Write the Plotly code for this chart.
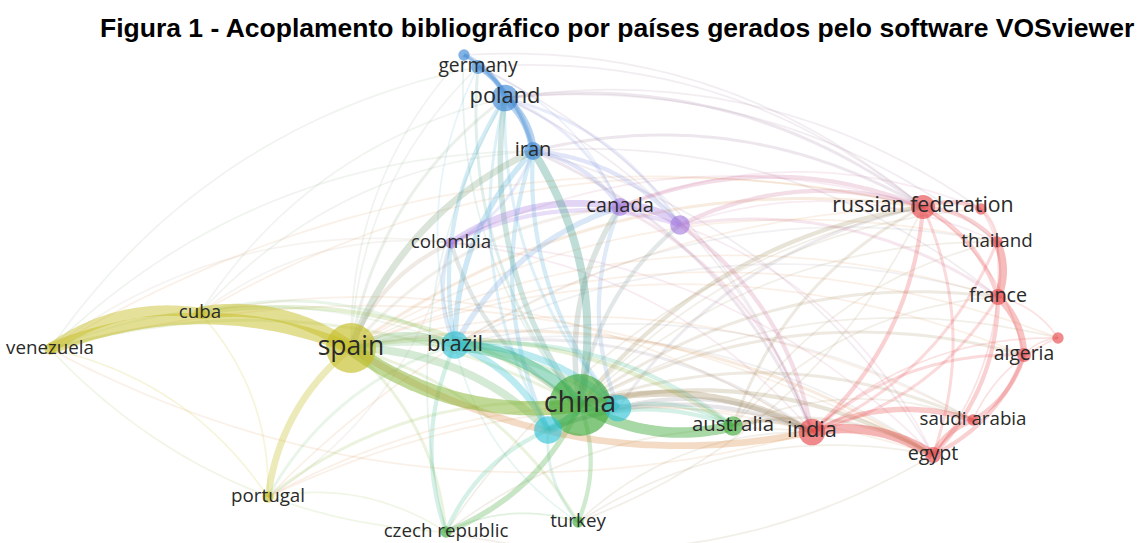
import numpy as np
import plotly.graph_objects as go

# ---- Network data: bibliographic coupling of countries (VOSviewer map) ----
node_ids = [
    "china", "spain", "brazil", "cyan-1", "cyan-2", "poland", "germany",
    "blue-2", "iran", "canada", "purple-2", "colombia", "russian federation",
    "red-2", "thailand", "france", "red-3", "algeria", "saudi arabia", "egypt",
    "india", "australia", "czech republic", "turkey", "cuba", "venezuela",
    "portugal",
]
node_labels = [
    "china", "spain", "brazil", "", "", "poland", "germany",
    "", "iran", "canada", "", "colombia", "russian federation",
    "", "thailand", "france", "", "algeria", "saudi arabia", "egypt",
    "india", "australia", "czech republic", "turkey", "cuba", "venezuela",
    "portugal",
]
# map coordinates (screen units of the map)
node_x = [580, 351, 455, 618, 548, 505, 478, 464, 533, 620, 680, 451, 923,
          981, 997, 998, 1058, 1024, 973, 933, 812, 733, 446, 578, 200, 50, 268]
node_y = [405, 348, 345, 408, 430, 98, 67, 55, 151, 207, 225, 243, 207,
          209, 242, 297, 338, 355, 420, 455, 432, 426, 532, 522, 313, 349, 497]
node_docs = [60, 39, 12, 11, 12, 11, 3, 2, 5, 5, 6, 2, 9,
             2, 2, 4, 2, 3, 2, 4, 11, 6, 2, 2, 2, 2, 2]
node_cluster = [2, 4, 6, 6, 6, 3, 3, 3, 3, 5, 5, 5, 1,
                1, 1, 1, 1, 1, 1, 1, 1, 2, 2, 2, 4, 4, 4]

link_source = [
    # yellow cluster
    "venezuela", "venezuela", "cuba", "portugal", "china", "spain", "spain",
    "india", "spain", "spain", "spain", "spain", "spain", "spain", "spain",
    "spain", "spain", "spain", "spain", "cuba", "cuba", "cuba", "cuba",
    "venezuela", "venezuela", "venezuela", "venezuela", "czech republic",
    "india", "venezuela", "venezuela", "venezuela", "portugal", "portugal",
    "portugal", "portugal",
    # green cluster
    "australia", "brazil", "china", "china", "iran", "china", "china", "china",
    "china", "china", "china", "china", "china", "china", "china", "china",
    "china", "china", "china", "china", "china", "china", "australia",
    "australia", "cyan-1", "cyan-2", "brazil", "australia", "czech republic",
    "czech republic", "czech republic", "turkey", "turkey", "czech republic",
    "turkey", "czech republic", "turkey",
    # cyan cluster
    "brazil", "brazil", "cyan-2", "brazil", "brazil", "brazil", "brazil",
    "brazil", "brazil", "cyan-1", "cyan-1", "cyan-1", "cyan-1", "cyan-2",
    "cyan-2", "cyan-2", "cyan-1",
    # blue cluster
    "poland", "germany", "blue-2", "germany", "blue-2", "blue-2", "iran",
    "iran", "iran", "poland", "poland", "poland", "iran", "iran", "poland",
    "germany", "germany", "iran", "poland", "iran",
    # purple cluster
    "canada", "colombia", "colombia", "canada", "purple-2", "canada",
    "purple-2", "purple-2", "purple-2", "colombia", "purple-2", "canada",
    # red cluster
    "india", "india", "egypt", "thailand", "france", "algeria",
    "russian federation", "russian federation", "russian federation",
    "russian federation", "russian federation", "red-2", "thailand", "france",
    "france", "algeria", "saudi arabia", "algeria", "france", "india",
    "russian federation", "thailand", "red-2", "india",
    # weak links between clusters
    "spain", "spain", "cuba", "cuba", "cuba", "colombia", "brazil", "brazil",
    "brazil", "brazil", "spain", "spain", "spain", "poland", "germany",
    "blue-2", "egypt", "russian federation", "australia", "australia",
    "australia", "czech republic", "portugal", "portugal", "venezuela",
    "cuba", "colombia", "colombia", "spain",
]
link_target = [
    "cuba", "spain", "spain", "spain", "spain", "brazil", "cyan-2",
    "spain", "australia", "iran", "colombia", "canada", "cyan-1", "poland",
    "czech republic", "turkey", "russian federation", "egypt", "france",
    "china", "brazil", "colombia", "portugal",
    "china", "brazil", "colombia", "portugal", "venezuela",
    "venezuela", "iran", "germany", "russian federation", "china", "brazil",
    "czech republic", "india",
    "china", "china", "cyan-1", "cyan-2", "china", "india", "czech republic",
    "turkey", "poland", "canada", "colombia", "purple-2", "germany",
    "russian federation", "egypt", "saudi arabia", "france", "thailand",
    "algeria", "red-2", "red-3", "blue-2", "india",
    "egypt", "australia", "australia", "australia", "russian federation",
    "brazil", "cyan-2", "turkey", "cyan-2", "brazil", "india",
    "india", "poland", "egypt",
    "cyan-1", "cyan-2", "cyan-1", "iran", "poland", "colombia", "canada",
    "india", "germany", "iran", "poland", "canada", "india", "iran",
    "india", "poland", "russian federation",
    "iran", "poland", "poland", "iran", "iran", "germany", "canada",
    "purple-2", "colombia", "canada", "purple-2", "russian federation",
    "russian federation", "india", "india", "russian federation", "canada",
    "france", "thailand", "egypt",
    "purple-2", "canada", "purple-2", "russian federation",
    "russian federation", "india", "india", "france", "thailand", "india",
    "egypt", "red-2",
    "egypt", "saudi arabia", "saudi arabia", "france", "algeria", "egypt",
    "red-2", "thailand", "france", "india", "egypt", "thailand", "india",
    "india", "egypt", "saudi arabia", "red-3", "red-3", "red-3", "algeria",
    "algeria", "egypt", "france", "red-3",
    "germany", "blue-2", "iran", "poland", "india", "portugal", "saudi arabia",
    "egypt", "thailand", "france", "algeria", "saudi arabia", "red-3",
    "red-2", "india", "russian federation", "czech republic", "turkey",
    "thailand", "france", "saudi arabia", "russian federation", "egypt",
    "russian federation", "egypt", "russian federation", "russian federation",
    "egypt", "thailand",
]
link_strength = [
    8, 9, 10, 5, 11, 6, 6, 5, 3, 5, 3, 2, 4, 2, 2, 2, 2, 2, 1, 3, 2, 1, 1,
    2, 1, 1, 1, 1, 1, 1, 1, 1, 2, 2, 1, 1,
    8, 9, 6, 6, 6, 5, 4, 3, 4, 4, 3, 3, 2, 3, 3, 2, 2, 1, 2, 1, 1, 1, 3,
    2, 3, 3, 3, 2, 3, 3, 1, 2, 1, 1, 1, 1, 1,
    5, 5, 3, 4, 3, 3, 4, 2, 1, 3, 2, 3, 3, 3, 3, 2, 2,
    6, 4, 3, 3, 2, 2, 3, 3, 2, 2, 2, 2, 2, 2, 1, 1, 1, 1, 1, 1,
    6, 5, 3, 3, 3, 2, 3, 2, 1, 1, 1, 1,
    7, 4, 4, 6, 5, 3, 3, 3, 3, 3, 2, 2, 2, 2, 3, 3, 1, 1, 1, 2, 1, 1, 1, 1,
    1, 1, 1, 1, 1, 1, 1, 1, 1, 1, 1, 1, 1, 1, 1, 1, 1, 1, 1, 1, 1, 1, 1, 1,
    1, 1, 1, 1, 1,
]

TITLE = "Figura 1 - Acoplamento bibliográfico por países gerados pelo software VOSviewer"

# ---- Styling ----
W, H = 1143, 543
cluster_rgb = {
    1: (230, 72, 74),    # red
    2: (64, 170, 58),    # green
    3: (60, 136, 212),   # blue
    4: (198, 190, 38),   # yellow
    5: (166, 124, 222),  # purple
    6: (50, 194, 214),   # cyan
}

idx = {n: i for i, n in enumerate(node_ids)}


def bezier(p0, p2, bend=0.2, n=40):
    p0 = np.asarray(p0, float)
    p2 = np.asarray(p2, float)
    d = p2 - p0
    ctrl = (p0 + p2) / 2 + bend * np.array([d[1], -d[0]])
    t = np.linspace(0, 1, n)[:, None]
    pts = (1 - t) ** 2 * p0 + 2 * (1 - t) * t * ctrl + t ** 2 * p2
    return pts[:, 0], pts[:, 1]


fig = go.Figure()

order = np.argsort(link_strength, kind="stable")
for k in order:
    a, b, w = idx[link_source[k]], idx[link_target[k]], link_strength[k]
    ca = cluster_rgb[node_cluster[a]]
    cb = cluster_rgb[node_cluster[b]]
    same = node_cluster[a] == node_cluster[b]
    col = tuple(int((u + v) / 2) for u, v in zip(ca, cb))
    alpha = min(0.5, (0.12 if same else 0.08) + 0.042 * w)
    xs, ys = bezier((node_x[a], node_y[a]), (node_x[b], node_y[b]))
    fig.add_trace(go.Scatter(
        x=xs, y=ys, mode="lines",
        line=dict(color=f"rgba({col[0]},{col[1]},{col[2]},{alpha:.2f})",
                  width=0.5 + 1.25 * w, shape="spline"),
        hoverinfo="skip", showlegend=False,
    ))

radius = 4.0 * np.sqrt(np.array(node_docs, float))
node_colors = [
    "rgba({},{},{},0.92)".format(*cluster_rgb[c]) for c in node_cluster
]
fig.add_trace(go.Scatter(
    x=node_x, y=node_y, mode="markers",
    marker=dict(size=2 * radius, color=node_colors, line=dict(width=0)),
    hoverinfo="skip", showlegend=False,
))

font_sizes = 16.5 + 1.6 * np.sqrt(np.array(node_docs, float))
fig.add_trace(go.Scatter(
    x=node_x, y=node_y, mode="text", text=node_labels,
    textposition="middle center", cliponaxis=False,
    textfont=dict(family="Open Sans", size=list(font_sizes), color="#2a2a2a"),
    hoverinfo="skip", showlegend=False,
))

fig.add_annotation(
    text=f"<b>{TITLE}</b>", xref="paper", yref="paper",
    x=617 / W, y=1 - 28 / H, xanchor="center", yanchor="middle",
    showarrow=False,
    font=dict(family="Liberation Sans, Arial", size=26.5, color="#000000"),
)

fig.update_layout(
    width=W, height=H,
    margin=dict(l=0, r=0, t=0, b=0),
    paper_bgcolor="white", plot_bgcolor="white",
    xaxis=dict(range=[0, W], visible=False, fixedrange=True),
    yaxis=dict(range=[H, 0], visible=False, fixedrange=True),
)

fig.write_html("out.html")
